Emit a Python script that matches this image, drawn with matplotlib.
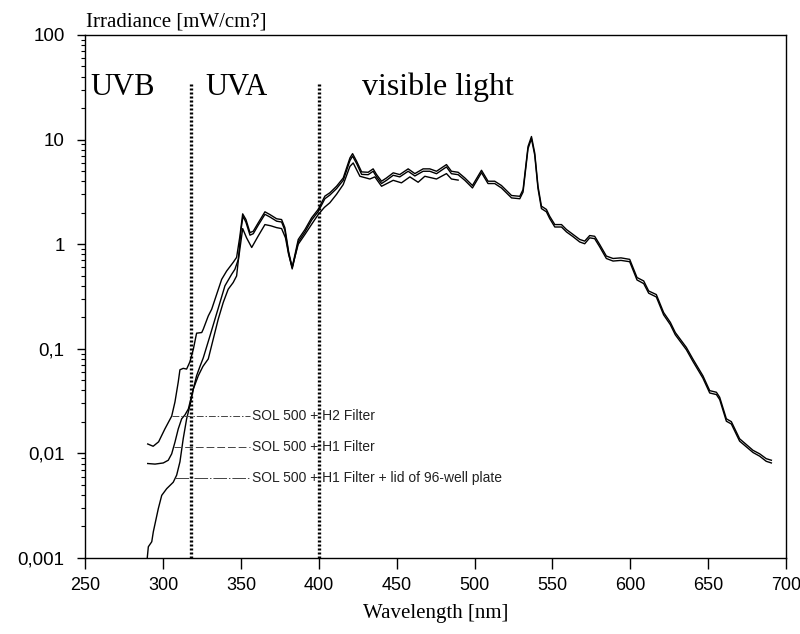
import matplotlib
matplotlib.use("Agg")
import matplotlib.pyplot as plt
from matplotlib.ticker import LogLocator, NullFormatter

# SOL 500 + H2 Filter
wl_h2 = [290, 293.5, 297, 301, 305.4, 307.5, 309.6, 310.7, 312.8, 315, 317.1, 319.3, 321.4, 324.7,
         325.7, 328.9, 331.1, 334.3, 337.5, 340.7, 344.9, 347.1, 349.2, 351.0, 353.1, 355.7, 357.8,
         361.0, 365.3, 368.5, 372.8, 376.0, 378.1, 380.5, 382.8, 386.7, 391.0, 395.3, 399.5, 403.8,
         407.0, 411.3, 415.6, 419.9, 421.6, 424.2, 427.4, 431.6, 434.8, 437.0, 440.2, 443.4, 447.7,
         451.9, 457.3, 461.6, 466.9, 471.2, 475.5, 481.9, 485.1, 489.4, 493.7, 498.6, 504.4, 508.6,
         512.9, 517.2, 523.7, 529.0, 531.1, 534.3, 536.5, 538.6, 540.7, 542.9, 546.1, 548.2, 551.5,
         555.8, 559.0, 563.2, 567.5, 570.7, 573.9, 577.1, 580.3, 584.6, 588.9, 594, 599.6, 604.3,
         608.6, 611.8, 616.7, 621.4, 625.7, 628.9, 636.0, 640.2, 646.6, 651.0, 655.3, 657.4, 661.7,
         664.9, 670.2, 678.8, 683.1, 687.3, 690.6]
irr_h2 = [0.0123, 0.0117, 0.0129, 0.0171, 0.0227, 0.031, 0.048, 0.063, 0.065, 0.064, 0.075, 0.099,
          0.141, 0.143, 0.154, 0.206, 0.239, 0.332, 0.461, 0.554, 0.670, 0.748, 1.19, 1.95, 1.72,
          1.29, 1.33, 1.60, 2.04, 1.92, 1.75, 1.72, 1.44, 0.85, 0.60, 1.11, 1.38, 1.79, 2.15, 2.88,
          3.10, 3.58, 4.30, 6.68, 7.34, 6.2, 4.91, 4.87, 5.25, 4.63, 4.0, 4.30, 4.81, 4.63, 5.25,
          4.73, 5.25, 5.25, 4.98, 5.77, 4.98, 4.87, 4.30, 3.64, 5.09, 4.0, 4.0, 3.64, 2.92, 2.87,
          3.33, 8.6, 10.7, 7.45, 3.58, 2.31, 2.15, 1.85, 1.54, 1.54, 1.38, 1.24, 1.11, 1.07, 1.21,
          1.19, 0.995, 0.77, 0.73, 0.74, 0.716, 0.48, 0.445, 0.357, 0.33, 0.222, 0.179, 0.143,
          0.103, 0.0798, 0.0553, 0.0398, 0.0384, 0.0344, 0.0214, 0.0201, 0.0138, 0.0107, 0.0099,
          0.0089, 0.0086]

# SOL 500 + H1 Filter
wl_h1 = [290, 294.7, 300, 303.2, 305.4, 307.5, 309.6, 311.8, 313.9, 316.1, 319.3, 321.4, 323.6,
         325.7, 330.0, 333.2, 336.4, 339.6, 343.9, 346.0, 348.2, 350.0, 351.2, 353.1, 355.7, 357.8,
         361.0, 365.3, 368.5, 372.8, 376.0, 378.1, 380.5, 382.8, 386.7, 391.0, 395.3, 399.5, 403.8,
         407.0, 411.3, 415.6, 419.9, 421.6, 424.2, 427.4, 431.6, 434.8, 437.0, 440.2, 443.4, 447.7,
         451.9, 457.3, 461.6, 466.9, 471.2, 475.5, 481.9, 485.1, 489.4, 493.7, 498.6, 504.4, 508.6,
         512.9, 517.2, 523.7, 529.0, 531.1, 534.3, 536.5, 538.6, 540.7, 542.9, 546.1, 548.2, 551.5,
         555.8, 559.0, 563.2, 567.5, 570.7, 573.9, 577.1, 580.3, 584.6, 588.9, 594, 599.6, 604.3,
         608.6, 611.8, 616.7, 621.4, 625.7, 628.9, 636.0, 640.2, 646.6, 651.0, 655.3, 657.4, 661.7,
         664.9, 670.2, 678.8, 683.1, 687.3, 690.6]
irr_h1 = [0.0080, 0.0079, 0.0081, 0.0086, 0.0099, 0.0128, 0.0171, 0.0214, 0.0233, 0.0266, 0.0413,
          0.0553, 0.068, 0.082, 0.133, 0.192, 0.277, 0.40, 0.515, 0.575, 0.716, 1.40, 1.85, 1.62,
          1.22, 1.26, 1.52, 1.93, 1.82, 1.66, 1.63, 1.36, 0.82, 0.58, 1.05, 1.31, 1.70, 2.05, 2.72,
          2.95, 3.40, 4.08, 6.3, 6.95, 5.9, 4.65, 4.62, 4.98, 4.40, 3.80, 4.08, 4.56, 4.40, 4.98,
          4.49, 4.98, 4.98, 4.72, 5.48, 4.72, 4.62, 4.08, 3.45, 4.83, 3.80, 3.80, 3.45, 2.77, 2.72,
          3.15, 8.2, 10.2, 7.1, 3.40, 2.19, 2.04, 1.76, 1.46, 1.46, 1.31, 1.18, 1.05, 1.01, 1.15,
          1.13, 0.945, 0.73, 0.69, 0.70, 0.68, 0.455, 0.42, 0.34, 0.313, 0.211, 0.170, 0.136,
          0.098, 0.0758, 0.0525, 0.0378, 0.0365, 0.0327, 0.0203, 0.0191, 0.0131, 0.0102, 0.0094,
          0.0084, 0.0081]

# SOL 500 + H1 Filter + lid of 96-well plate
wl_lid = [289.7, 290.4, 292.6, 293.6, 296.8, 299.0, 302.2, 306.4, 308.6, 310.7, 312.8, 315.0, 317.1,
          319.3, 322.5, 325.5, 328.9, 332.1, 335.3, 338.5, 341.7, 344.9, 347.1, 348.2, 351.0, 353.5,
          356.8, 361.0, 365.3, 369.0, 372.8, 376.0, 378.5, 380.5, 382.8, 386.7, 391.0, 395.3, 399.5,
          403.5, 407.0, 411.3, 415.6, 419.9, 422.0, 426.3, 432.7, 435.9, 440.2, 447.7, 453.0, 458.4,
          463.7, 468.0, 475.5, 481.9, 485.1, 489.4]
irr_lid = [0.001, 0.00128, 0.00143, 0.00178, 0.00296, 0.00397, 0.0046, 0.0053, 0.0062, 0.0083,
           0.0138, 0.0214, 0.0286, 0.0413, 0.0553, 0.068, 0.080, 0.124, 0.192, 0.277, 0.371, 0.43,
           0.497, 0.70, 1.41, 1.15, 0.93, 1.20, 1.54, 1.50, 1.44, 1.41, 1.15, 0.80, 0.60, 1.0, 1.24,
           1.55, 1.92, 2.25, 2.49, 3.0, 3.72, 5.55, 5.98, 4.46, 4.20, 4.40, 3.58, 4.08, 3.86, 4.40,
           3.91, 4.46, 4.20, 4.73, 4.20, 4.10]

legend_texts = ["SOL 500 + H2 Filter", "SOL 500 + H1 Filter",
                "SOL 500 + H1 Filter + lid of 96-well plate"]
leader_start = [305.4, 307, 307.5]
leader_y = [0.023, 0.0115, 0.0058]

borders = [318, 400]
regions = ["UVB", "UVA", "visible light"]
region_x = [253, 327, 427.5]

xticks = [250, 300, 350, 400, 450, 500, 550, 600, 650, 700]
yticks = [0.001, 0.01, 0.1, 1, 10, 100]
ytick_labels = ["0,001", "0,01", "0,1", "1", "10", "100"]

serif = "Liberation Serif"
sans = "Liberation Sans"

fig = plt.figure(figsize=(8, 6.34), dpi=100)
ax = fig.add_axes([0.1068, 0.1199, 0.8757, 0.8249])

ax.plot(wl_h2, irr_h2, color="black", lw=1.0)
ax.plot(wl_h1, irr_h1, color="black", lw=1.0)
ax.plot(wl_lid, irr_lid, color="black", lw=1.0)

for b in borders:
    ax.plot([b, b], [0.001, 35], color="black", lw=2.4, linestyle=(0, (0.6, 0.6)))

styles = [(0, (7, 2, 1.5, 2)), (0, (8, 3)), (0, (14, 2, 1.5, 2))]
for txt, x0, y0, ls in zip(legend_texts, leader_start, leader_y, styles):
    ax.plot([x0, 355.5], [y0, y0], color="#444444", lw=0.7, linestyle=ls)
    ax.text(357, y0, txt, fontsize=10, family=sans, va="center", ha="left", color="#222222")

sizes = [22, 22, 23]
for name, x, fs in zip(regions, region_x, sizes):
    ax.text(x, 26.5, name, fontsize=fs, family=serif, va="baseline", ha="left")

ax.set_yscale("log")
ax.set_xlim(250, 700)
ax.set_ylim(0.001, 100)
ax.set_xticks(xticks)
ax.set_xticklabels([str(t) for t in xticks], family=sans, fontsize=13)
ax.set_yticks(yticks)
ax.set_yticklabels(ytick_labels, family=sans, fontsize=13.5)
ax.yaxis.set_minor_locator(LogLocator(base=10, subs=range(2, 10)))
ax.yaxis.set_minor_formatter(NullFormatter())
ax.tick_params(axis="x", which="major", direction="out", length=8, width=1, pad=6)
ax.tick_params(axis="y", which="major", direction="out", length=6, width=1, pad=9)
ax.tick_params(axis="y", which="minor", direction="out", length=3, width=0.8)

for s in ax.spines.values():
    s.set_linewidth(1.0)

ax.set_xlabel("Wavelength [nm]", family=serif, fontsize=15, labelpad=7)
fig.text(0.107, 0.965, "Irradiance [mW/cm?]", family=serif, fontsize=15, ha="left", va="center")

fig.savefig("out.png", dpi=100, facecolor="white")
